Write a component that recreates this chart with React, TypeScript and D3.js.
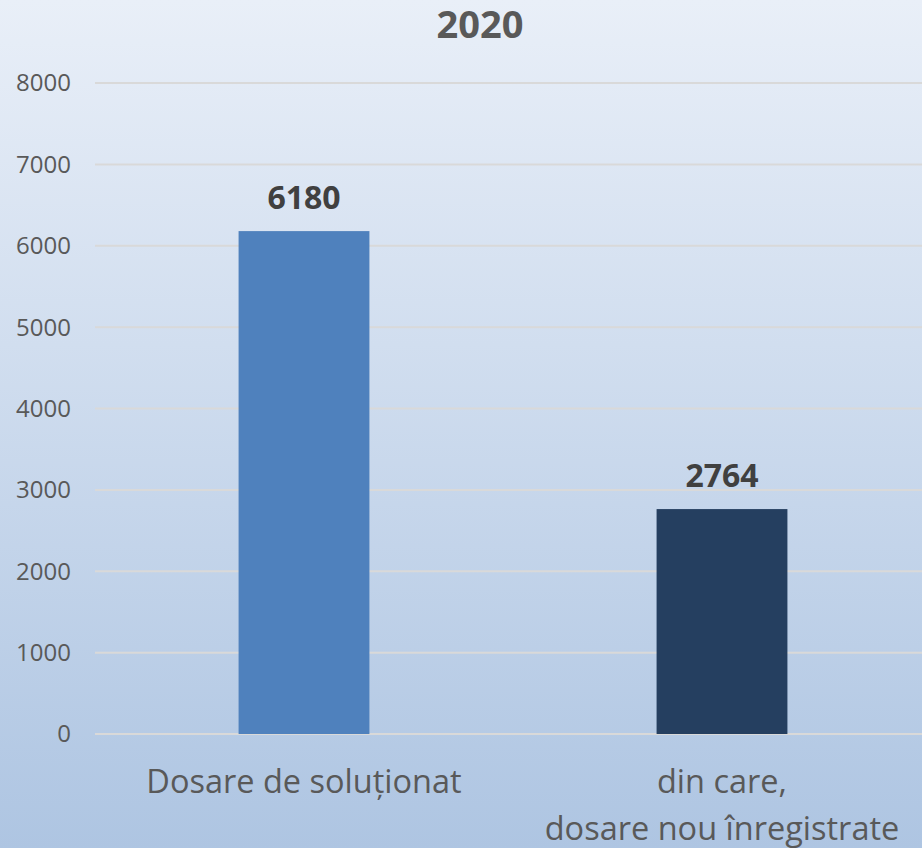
import React from "react";
import * as d3 from "d3";

const title = "2020";
const categories = ["Dosare de soluționat", "din care,\ndosare nou înregistrate"];
const values = [6180, 2764];
const barColors = ["#4f81bd", "#253f60"];
const yTicks = [0, 1000, 2000, 3000, 4000, 5000, 6000, 7000, 8000];

const W = 922;
const H = 848;
const FONT = "'Open Sans', 'Noto Sans', sans-serif";

export default function App() {
  const y = d3.scaleLinear().domain([0, 8000]).range([734, 83]);
  const x = d3.scaleBand<string>().domain(categories).range([95, 931]).padding(0);
  const barW = x.bandwidth() * 0.313;

  return (
    <svg width={W} height={H} style={{ position: "absolute", left: 0, top: 0 }}>
      <defs>
        <linearGradient id="bg" x1="0" y1="0" x2="0" y2="1">
          <stop offset="0" stopColor="#e9eff8" />
          <stop offset="1" stopColor="#aec5e2" />
        </linearGradient>
      </defs>
      <rect x={0} y={0} width={W} height={H} fill="url(#bg)" />
      <text x={480} y={38} textAnchor="middle" fontFamily={FONT} fontWeight="bold" fontSize={38} fill="#595959">
        {title}
      </text>
      {yTicks.map((t) => (
        <g key={t}>
          <line x1={95} x2={W} y1={y(t)} y2={y(t)} stroke="#d9d9d9" strokeWidth={2} />
          <text x={71} y={y(t)} dy="0.35em" textAnchor="end" fontFamily={FONT} fontSize={24} fill="#595959">
            {t}
          </text>
        </g>
      ))}
      {categories.map((c, i) => {
        const cx = (x(c) as number) + x.bandwidth() / 2;
        return (
          <g key={c}>
            <rect x={cx - barW / 2} y={y(values[i])} width={barW} height={y(0) - y(values[i])} fill={barColors[i]} />
            <text x={cx} y={y(values[i]) - 22} textAnchor="middle" fontFamily={FONT} fontWeight="bold" fontSize={32} fill="#404040">
              {values[i]}
            </text>
            {c.split("\n").map((line, j) => (
              <text key={j} x={cx} y={793 + j * 47} textAnchor="middle" fontFamily={FONT} fontSize={32.5} fill="#595959">
                {line}
              </text>
            ))}
          </g>
        );
      })}
    </svg>
  );
}
